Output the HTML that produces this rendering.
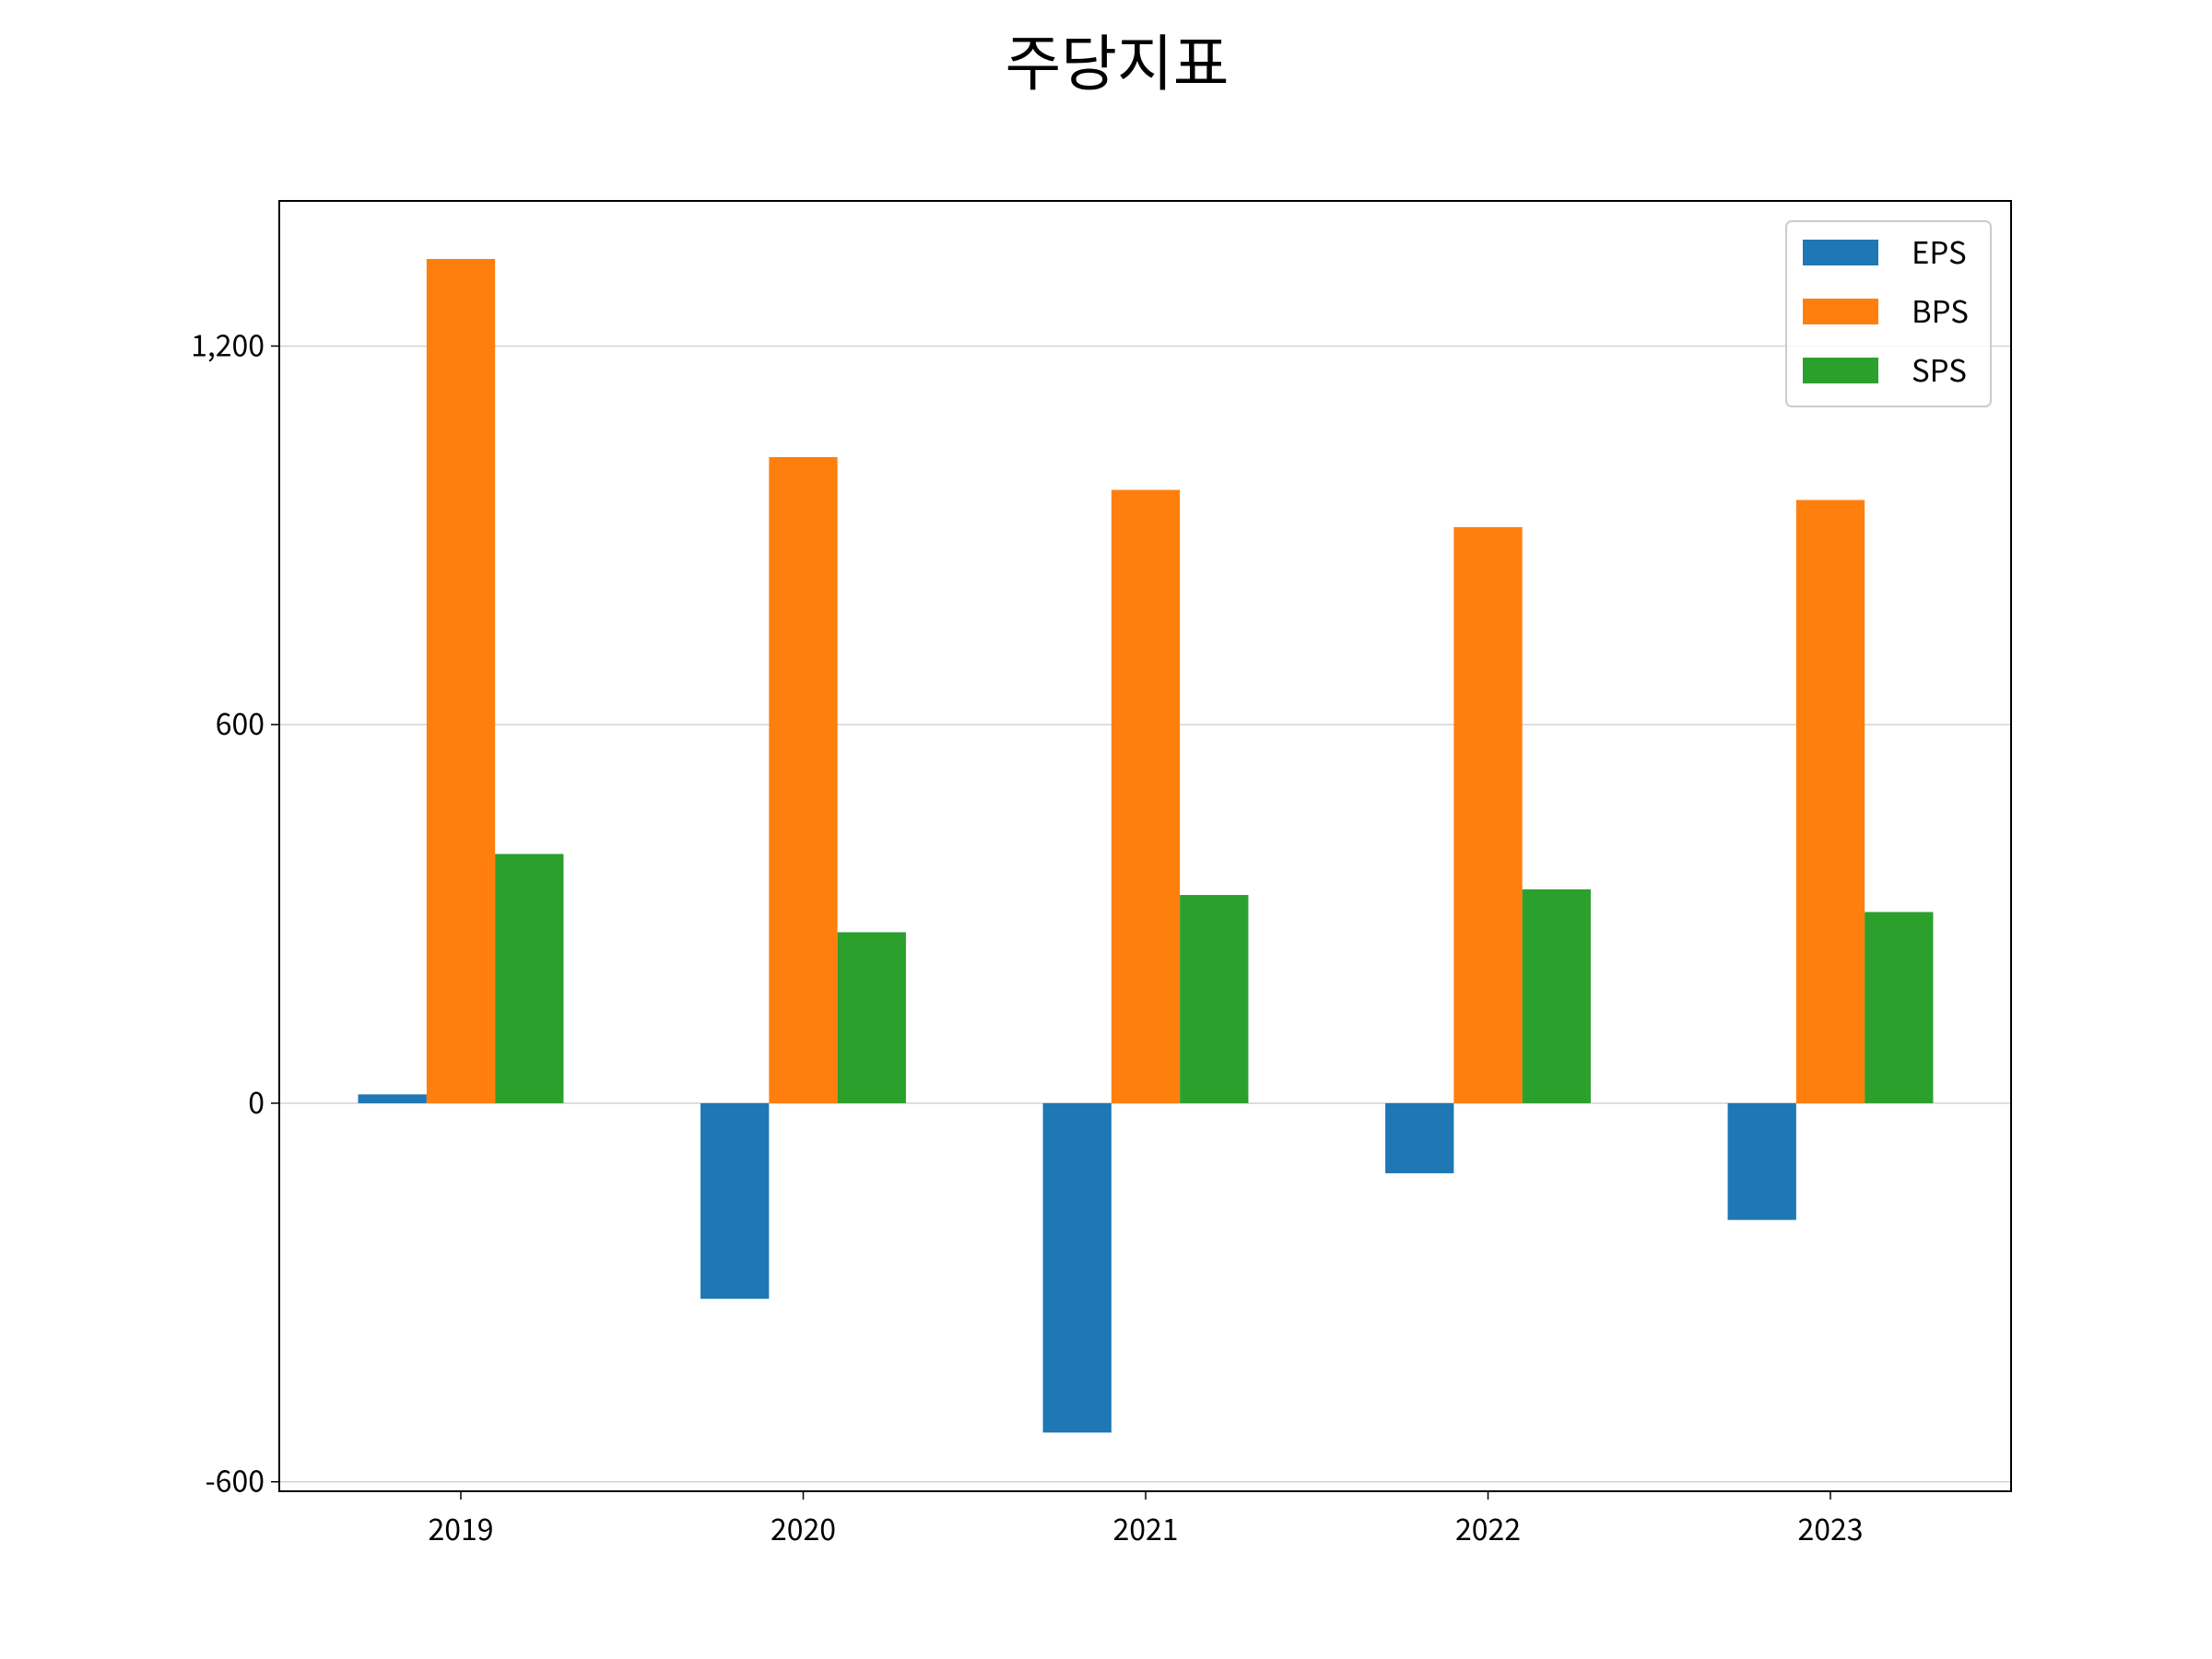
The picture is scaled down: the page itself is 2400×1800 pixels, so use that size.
<!DOCTYPE html>
<html><head><meta charset="utf-8"><style>
html,body{margin:0;padding:0;background:#fff}
svg{display:block;font-family:"Noto Sans CJK KR","Liberation Sans",sans-serif}
</style></head><body>
<svg id="chart" width="2400" height="1800" viewBox="0 0 2400 1800" xmlns="http://www.w3.org/2000/svg">
<rect width="2400" height="1800" fill="#fff"/>
<text x="1212" y="92" font-size="66" text-anchor="middle" fill="#000">주당지표</text>
<g id="grid"></g>
<g id="bars"></g>
<g id="axes"></g>
<g id="legend"></g>
</svg>
<script>
const categories = ['2019','2020','2021','2022','2023'];
const seriesNames = ['EPS','BPS','SPS'];
const epsValues = [14, -310, -522, -111, -185];
const bpsValues = [1338, 1024, 972, 913, 956];
const spsValues = [395, 271, 330, 339, 303];
const yTicks = [-600, 0, 600, 1200];
const yTickLabels = ['-600', '0', '600', '1,200'];

const colors = ['#1f77b4','#ff7f0e','#2ca02c'];
const allSeries = [epsValues, bpsValues, spsValues];
const L = 303, R = 2182, T = 218, B = 1618;
const yMin = -615, yMax = 1430;
const NS = 'http://www.w3.org/2000/svg';
function y(v){ return B - (v - yMin) / (yMax - yMin) * (B - T); }
const step = 371.5;
const x0 = 500;
function x(i){ return x0 + i * step; }
const bw = step * 0.2;
function mk(tag, attrs, parent){ const e = document.createElementNS(NS, tag); for (const k in attrs) e.setAttribute(k, attrs[k]); parent.appendChild(e); return e; }

const grid = document.getElementById('grid');
const bars = document.getElementById('bars');
const axes = document.getElementById('axes');
const legend = document.getElementById('legend');

yTicks.forEach((t, i) => {
  const g = mk('line', {x1: L, x2: R, y1: y(t), y2: y(t), stroke: '#d3d3d3', 'stroke-width': 1.5}, grid);
  
  
  const tk = mk('line', {x1: L - 9, x2: L, y1: y(t), y2: y(t), stroke: '#000', 'stroke-width': 1.5}, axes);
  
  
  const lb = mk('text', {x: L - 16, y: y(t) + 11, 'font-size': 32, 'text-anchor': 'end', fill: '#000'}, axes);
  lb.textContent = yTickLabels[i];
  
  
});

allSeries.forEach((vals, s) => {
  vals.forEach((v, i) => {
    const cx = x(i) + (s - 1) * bw;
    const top = Math.min(y(v), y(0)), h = Math.abs(y(v) - y(0));
    const r = mk('rect', {x: cx - bw / 2, y: top, width: bw, height: h, fill: colors[s]}, bars);
    
    
  });
});

categories.forEach((c, i) => {
  const tk = mk('line', {x1: x(i), x2: x(i), y1: B, y2: B + 9, stroke: '#000', 'stroke-width': 1.5}, axes);
  
  
  const lb = mk('text', {x: x(i), y: B + 53, 'font-size': 32, 'text-anchor': 'middle', fill: '#000'}, axes);
  lb.textContent = c;
  
  
});

const frame = mk('rect', {x: L, y: T, width: R - L, height: B - T, fill: 'none', stroke: '#000', 'stroke-width': 2}, axes);



const lbox = mk('rect', {x: 1938, y: 240, width: 222, height: 201, rx: 6, fill: '#fff', 'fill-opacity': 0.8, stroke: '#ccc', 'stroke-width': 2}, legend);


seriesNames.forEach((n, s) => {
  const cy = 274 + s * 64;
  const p = mk('rect', {x: 1956, y: cy - 14, width: 82, height: 28, fill: colors[s]}, legend);
  
  
  const t = mk('text', {x: 2074, y: cy + 12, 'font-size': 33, fill: '#000'}, legend);
  t.textContent = n;
  
  
});
</script>
</body></html>
